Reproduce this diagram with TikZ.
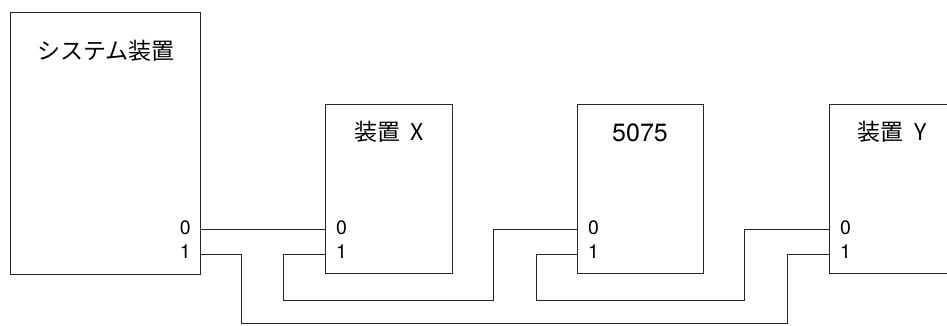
\documentclass[tikz,border=0pt]{standalone}
\usepackage{fontspec}
\setmainfont{TeX Gyre Heros}
\newfontfamily\jpfont{Noto Sans CJK JP}
\usetikzlibrary{calc}
\begin{document}
\begin{tikzpicture}[x=1pt,y=-1pt,
  unitbox/.style={draw=black!85,line width=1.1pt,rectangle,anchor=north west,inner sep=0pt},
  title/.style={font=\fontsize{23}{25}\selectfont,inner sep=0pt,anchor=center},
  portl/.style={font=\fontsize{19.5}{21}\selectfont,inner sep=0pt,anchor=west},
  portr/.style={font=\fontsize{19.5}{21}\selectfont,inner sep=0pt,anchor=east},
  wire/.style={draw=black!85,line width=0.8pt}]
  \useasboundingbox (0,0) rectangle (947,325);
  \clip (0,0) rectangle (947,325);

  % units
  \node[unitbox,minimum width=190pt,minimum height=262pt] (sys) at (10,12) {};
  \node[unitbox,minimum width=127pt,minimum height=169pt] (ux) at (325,104) {};
  \node[unitbox,minimum width=126pt,minimum height=169pt] (u5075) at (577,104) {};
  \node[unitbox,minimum width=127pt,minimum height=169pt] (uy) at (829,104) {};

  % titles
  \node[title] (tsys) at (106,51) {\jpfont システム装置};
  \node[title] (tx) at (389,132) {\jpfont 装置\hspace{0.45em}X};
  \node[title,font=\fontsize{25}{27}\selectfont] (t5075) at (640,133) {5075};
  \node[title] (ty) at (892,132) {\jpfont 装置\hspace{0.45em}Y};

  % port labels
  \node[portr] (sysp0) at (191,228) {0};
  \node[portr] (sysp1) at (191,252) {1};
  \node[portl] (xp0) at (336,228) {0};
  \node[portl] (xp1) at (336,252) {1};
  \node[portl] (p5p0) at (588,228) {0};
  \node[portl] (p5p1) at (588,252) {1};
  \node[portl] (yp0) at (840,228) {0};
  \node[portl] (yp1) at (840,252) {1};

  % port connection points on the unit borders
  \coordinate (s0) at (200,229);
  \coordinate (s1) at (200,254);
  \coordinate (x0) at (325,229);
  \coordinate (x1) at (325,254);
  \coordinate (f0) at (577,229);
  \coordinate (f1) at (577,254);
  \coordinate (y0) at (829,229);
  \coordinate (y1) at (829,254);

  % cabling
  \draw[wire] (s0) -- (x0);
  \draw[wire] (s1) -- (241,254) -- (241,323.5) -- (787,323.5) -- (787,254) -- (y1);
  \draw[wire] (x1) -- (283,254) -- (283,300.5) -- (493,300.5) -- (493,229) -- (f0);
  \draw[wire] (f1) -- (536,254) -- (536,300.5) -- (744,300.5) -- (744,229) -- (y0);
\end{tikzpicture}
\end{document}
